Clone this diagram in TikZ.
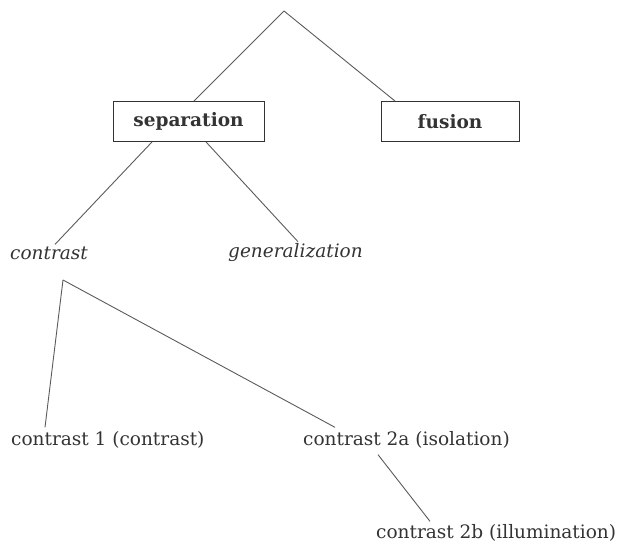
\documentclass[tikz,border=0pt]{standalone}
\usepackage{fontspec}
\setmainfont{DejaVu Serif}
\usetikzlibrary{positioning}
\definecolor{inkgray}{HTML}{333333}
\definecolor{linegray}{HTML}{5A5A5A}

\begin{document}
\begin{tikzpicture}[
    x=1pt, y=-1pt,
    font=\fontsize{18.5}{21}\selectfont,
    every node/.style={text=inkgray, inner sep=0pt},
    term/.style={rectangle, draw=inkgray, line width=0.9pt, minimum width=151pt,
      minimum height=40pt, font=\fontsize{18.5}{21}\selectfont\bfseries},
    cat/.style={anchor=west, font=\fontsize{18.5}{21}\selectfont\itshape},
    leaf/.style={anchor=west},
    link/.style={draw=linegray, line width=0.9pt}
  ]
  \useasboundingbox (0,0) rectangle (622,545);
  % top level
  \coordinate (root) at (284,11);
  \node[term] (sep) at (188.5,121.5) {separation};
  \node[term, minimum width=138pt] (fus) at (450,121.5) {fusion};
  \draw[link] (root) -- ([xshift=5.5pt]sep.north);
  \draw[link] (root) -- ([xshift=-55pt]fus.north);
  % second level
  \node[cat] (con) at (10,253) {contrast};
  \node[cat] (gen) at (228,253) {generalization};
  \draw[link] ([xshift=-36.5pt]sep.south) -- ([xshift=45pt,yshift=2pt]con.north west);
  \draw[link] ([xshift=17.5pt]sep.south) -- ([xshift=70pt,yshift=2pt]gen.north west);
  % kinds of contrast
  \coordinate (fork) at (63,280);
  \node[leaf] (c1) at (11,440) {contrast 1 (contrast)};
  \node[leaf] (c2a) at (303,440) {contrast 2a (isolation)};
  \node[leaf] (c2b) at (376,533) {contrast 2b (illumination)};
  \draw[link] (fork) -- ([xshift=34pt,yshift=4pt]c1.north west);
  \draw[link] (fork) -- ([xshift=32pt,yshift=4pt]c2a.north west);
  \draw[link] ([xshift=75pt,yshift=-6pt]c2a.south west) -- ([xshift=54pt,yshift=3pt]c2b.north west);
\end{tikzpicture}
\end{document}
